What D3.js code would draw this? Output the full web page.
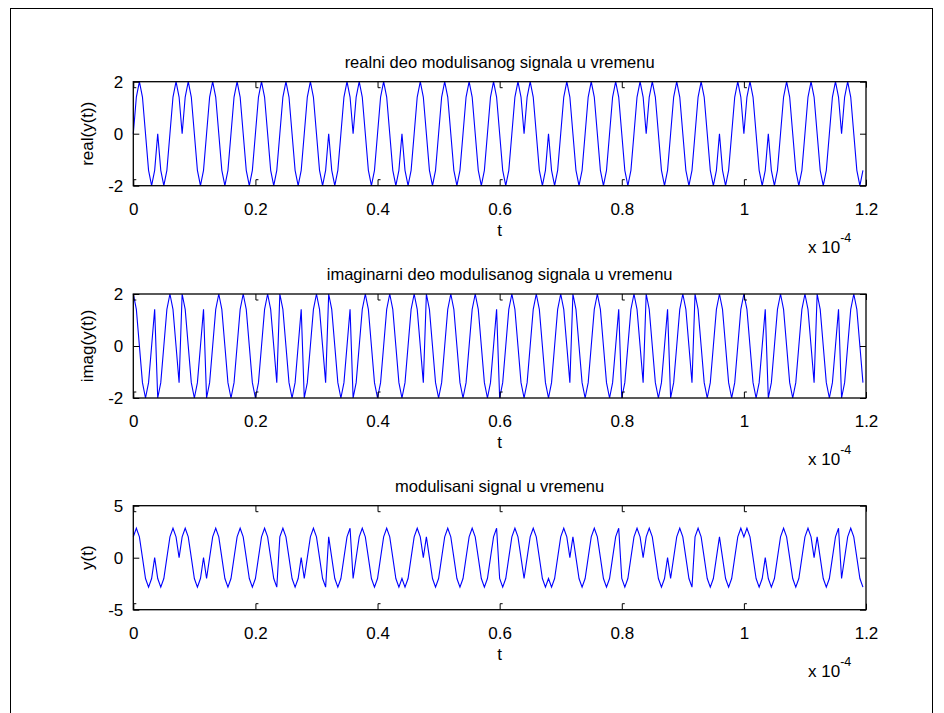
<!DOCTYPE html>
<html>
<head>
<meta charset="utf-8">
<script src="https://cdn.jsdelivr.net/npm/d3@7"></script>
<style>
body { margin: 0; background: #fff; }
text { font-family: "Liberation Sans", Arial, sans-serif; fill: #000; }
</style>
</head>
<body>
<div id="chart"></div>
<script>
// samples every 0.5 us, read symbol by symbol (8 samples per carrier period)
const sampleStep = 0.5e-6;

const realPart = [
  0, 1.41, 2, 1.41, 0, -1.41, -2, -1.41,
  0, -1.41, -2, -1.41, 0, 1.41, 2, 1.41,
  0, 1.41, 2, 1.41, 0, -1.41, -2, -1.41,
  0, 1.41, 2, 1.41, 0, -1.41, -2, -1.41,
  0, 1.41, 2, 1.41, 0, -1.41, -2, -1.41,
  0, 1.41, 2, 1.41, 0, -1.41, -2, -1.41,
  0, 1.41, 2, 1.41, 0, -1.41, -2, -1.41,
  0, 1.41, 2, 1.41, 0, -1.41, -2, -1.41,
  0, -1.41, -2, -1.41, 0, 1.41, 2, 1.41,
  0, 1.41, 2, 1.41, 0, -1.41, -2, -1.41,
  0, 1.41, 2, 1.41, 0, -1.41, -2, -1.41,
  0, -1.41, -2, -1.41, 0, 1.41, 2, 1.41,
  0, -1.41, -2, -1.41, 0, 1.41, 2, 1.41,
  0, -1.41, -2, -1.41, 0, 1.41, 2, 1.41,
  0, -1.41, -2, -1.41, 0, 1.41, 2, 1.41,
  0, -1.41, -2, -1.41, 0, 1.41, 2, 1.41,
  0, 1.41, 2, 1.41, 0, -1.41, -2, -1.41,
  0, -1.41, -2, -1.41, 0, 1.41, 2, 1.41,
  0, -1.41, -2, -1.41, 0, 1.41, 2, 1.41,
  0, -1.41, -2, -1.41, 0, 1.41, 2, 1.41,
  0, -1.41, -2, -1.41, 0, 1.41, 2, 1.41,
  0, 1.41, 2, 1.41, 0, -1.41, -2, -1.41,
  0, 1.41, 2, 1.41, 0, -1.41, -2, -1.41,
  0, 1.41, 2, 1.41, 0, -1.41, -2, -1.41,
  0, -1.41, -2, -1.41, 0, 1.41, 2, 1.41,
  0, 1.41, 2, 1.41, 0, -1.41, -2, -1.41,
  0, -1.41, -2, -1.41, 0, 1.41, 2, 1.41,
  0, -1.41, -2, -1.41, 0, 1.41, 2, 1.41,
  0, -1.41, -2, -1.41, 0, 1.41, 2, 1.41,
  0, 1.41, 2, 1.41, 0, -1.41, -2, -1.41
];

const imagPart = [
  2, 1.41, 0, -1.41, -2, -1.41, 0, 1.41,
  -2, -1.41, 0, 1.41, 2, 1.41, 0, -1.41,
  2, 1.41, 0, -1.41, -2, -1.41, 0, 1.41,
  -2, -1.41, 0, 1.41, 2, 1.41, 0, -1.41,
  -2, -1.41, 0, 1.41, 2, 1.41, 0, -1.41,
  -2, -1.41, 0, 1.41, 2, 1.41, 0, -1.41,
  2, 1.41, 0, -1.41, -2, -1.41, 0, 1.41,
  -2, -1.41, 0, 1.41, 2, 1.41, 0, -1.41,
  2, 1.41, 0, -1.41, -2, -1.41, 0, 1.41,
  -2, -1.41, 0, 1.41, 2, 1.41, 0, -1.41,
  -2, -1.41, 0, 1.41, 2, 1.41, 0, -1.41,
  -2, -1.41, 0, 1.41, 2, 1.41, 0, -1.41,
  2, 1.41, 0, -1.41, -2, -1.41, 0, 1.41,
  2, 1.41, 0, -1.41, -2, -1.41, 0, 1.41,
  2, 1.41, 0, -1.41, -2, -1.41, 0, 1.41,
  -2, -1.41, 0, 1.41, 2, 1.41, 0, -1.41,
  -2, -1.41, 0, 1.41, 2, 1.41, 0, -1.41,
  -2, -1.41, 0, 1.41, 2, 1.41, 0, -1.41,
  2, 1.41, 0, -1.41, -2, -1.41, 0, 1.41,
  2, 1.41, 0, -1.41, -2, -1.41, 0, 1.41,
  -2, -1.41, 0, 1.41, 2, 1.41, 0, -1.41,
  2, 1.41, 0, -1.41, -2, -1.41, 0, 1.41,
  -2, -1.41, 0, 1.41, 2, 1.41, 0, -1.41,
  2, 1.41, 0, -1.41, -2, -1.41, 0, 1.41,
  2, 1.41, 0, -1.41, -2, -1.41, 0, 1.41,
  2, 1.41, 0, -1.41, -2, -1.41, 0, 1.41,
  -2, -1.41, 0, 1.41, 2, 1.41, 0, -1.41,
  -2, -1.41, 0, 1.41, 2, 1.41, 0, -1.41,
  2, 1.41, 0, -1.41, -2, -1.41, 0, 1.41,
  -2, -1.41, 0, 1.41, 2, 1.41, 0, -1.41
];

const modSignal = [
  2, 2.83, 2, 0, -2, -2.83, -2, 0,
  -2, -2.83, -2, 0, 2, 2.83, 2, 0,
  2, 2.83, 2, 0, -2, -2.83, -2, 0,
  -2, 0, 2, 2.83, 2, 0, -2, -2.83,
  -2, 0, 2, 2.83, 2, 0, -2, -2.83,
  -2, 0, 2, 2.83, 2, 0, -2, -2.83,
  2, 2.83, 2, 0, -2, -2.83, -2, 0,
  -2, 0, 2, 2.83, 2, 0, -2, -2.83,
  2, 0, -2, -2.83, -2, 0, 2, 2.83,
  -2, 0, 2, 2.83, 2, 0, -2, -2.83,
  -2, 0, 2, 2.83, 2, 0, -2, -2.83,
  -2, -2.83, -2, 0, 2, 2.83, 2, 0,
  2, 0, -2, -2.83, -2, 0, 2, 2.83,
  2, 0, -2, -2.83, -2, 0, 2, 2.83,
  2, 0, -2, -2.83, -2, 0, 2, 2.83,
  -2, -2.83, -2, 0, 2, 2.83, 2, 0,
  -2, 0, 2, 2.83, 2, 0, -2, -2.83,
  -2, -2.83, -2, 0, 2, 2.83, 2, 0,
  2, 0, -2, -2.83, -2, 0, 2, 2.83,
  2, 0, -2, -2.83, -2, 0, 2, 2.83,
  -2, -2.83, -2, 0, 2, 2.83, 2, 0,
  2, 2.83, 2, 0, -2, -2.83, -2, 0,
  -2, 0, 2, 2.83, 2, 0, -2, -2.83,
  2, 2.83, 2, 0, -2, -2.83, -2, 0,
  2, 0, -2, -2.83, -2, 0, 2, 2.83,
  2, 2.83, 2, 0, -2, -2.83, -2, 0,
  -2, -2.83, -2, 0, 2, 2.83, 2, 0,
  -2, -2.83, -2, 0, 2, 2.83, 2, 0,
  2, 0, -2, -2.83, -2, 0, 2, 2.83,
  -2, 0, 2, 2.83, 2, 0, -2, -2.83
];

const titles = [
  "realni deo modulisanog signala u vremenu",
  "imaginarni deo modulisanog signala u vremenu",
  "modulisani signal u vremenu"
];
const yLabels = ["real(y(t))", "imag(y(t))", "y(t)"];
const yLimits = [[-2, 2], [-2, 2], [-5, 5]];
const yTickValues = [[-2, 0, 2], [-2, 0, 2], [-5, 0, 5]];
const xTickValues = [0, 0.2, 0.4, 0.6, 0.8, 1, 1.2]; // x 10^-4
const series = [realPart, imagPart, modSignal];

const width = 944, height = 713;
const left = 133.3, right = 866;
const panelTops = [81.7, 294, 505.7];
const panelH = 104;
const tickLen = 6;

const svg = d3.select("#chart").append("svg")
  .attr("width", width)
  .attr("height", height);

svg.append("rect")
  .attr("x", 10.5).attr("y", 8.5)
  .attr("width", 922).attr("height", 720)
  .attr("fill", "none").attr("stroke", "#000").attr("stroke-width", 1);

const x = d3.scaleLinear().domain([0, 1.2]).range([left, right]);

series.forEach((values, i) => {
  const top = panelTops[i], bottom = top + panelH;
  const y = d3.scaleLinear().domain(yLimits[i]).range([bottom, top]);
  const g = svg.append("g");

  g.append("path")
    .datum(values)
    .attr("fill", "none")
    .attr("stroke", "#0000ff")
    .attr("stroke-width", 1.1)
    .attr("d", d3.line()
      .x((d, n) => x(n * sampleStep / 1e-4))
      .y(d => y(d)));

  const ax = (axis, tx, ty) => g.append("g")
    .attr("transform", `translate(${tx},${ty})`)
    .call(axis)
    .call(s => s.select(".domain").remove())
    .call(s => s.selectAll("line").attr("stroke", "#000").attr("stroke-width", 1))
    .call(s => s.selectAll("text")
      .style("font-family", '"Liberation Sans", Arial, sans-serif')
      .style("font-size", "17px").attr("fill", "#000"));

  const bx = ax(d3.axisBottom(x).tickValues(xTickValues).tickSize(-tickLen).tickPadding(17)
      .tickFormat(d => d3.format("")(d)), 0, bottom);
  const tx = ax(d3.axisTop(x).tickValues(xTickValues).tickSize(-tickLen).tickFormat(""), 0, top);
  // small foot at the inner end of each x tick, as in the printed figure
  bx.selectAll(".tick").filter(d => d < 1.2).append("line")
    .attr("x1", 0).attr("x2", 2.5).attr("y1", -tickLen).attr("y2", -tickLen)
    .attr("stroke", "#000");
  tx.selectAll(".tick").filter(d => d < 1.2).append("line")
    .attr("x1", 0).attr("x2", 2.5).attr("y1", tickLen).attr("y2", tickLen)
    .attr("stroke", "#000");

  ax(d3.axisLeft(y).tickValues(yTickValues[i]).tickSize(-tickLen).tickPadding(10)
      .tickFormat(d => d < 0 ? "-" + Math.abs(d) : d), left, 0);
  ax(d3.axisRight(y).tickValues(yTickValues[i]).tickSize(-tickLen).tickFormat(""), right, 0);

  g.append("rect")
    .attr("x", left).attr("y", top)
    .attr("width", right - left).attr("height", panelH)
    .attr("fill", "none").attr("stroke", "#000").attr("stroke-width", 1.3);

  g.append("text")
    .attr("x", (left + right) / 2).attr("y", top - 14)
    .attr("text-anchor", "middle").style("font-size", "16.5px")
    .text(titles[i]);

  g.append("text")
    .attr("x", (left + right) / 2).attr("y", bottom + 50)
    .attr("text-anchor", "middle").style("font-size", "17px")
    .text("t");

  const ex = g.append("text")
    .attr("x", 808).attr("y", bottom + 67)
    .style("font-size", "17px");
  ex.append("tspan").text("x 10");
  ex.append("tspan").attr("dy", -11).style("font-size", "12.5px").text("-4");

  g.append("text")
    .attr("transform", `translate(93,${(top + bottom) / 2}) rotate(-90)`)
    .attr("text-anchor", "middle").style("font-size", "17px")
    .text(yLabels[i]);
});
</script>
</body>
</html>
